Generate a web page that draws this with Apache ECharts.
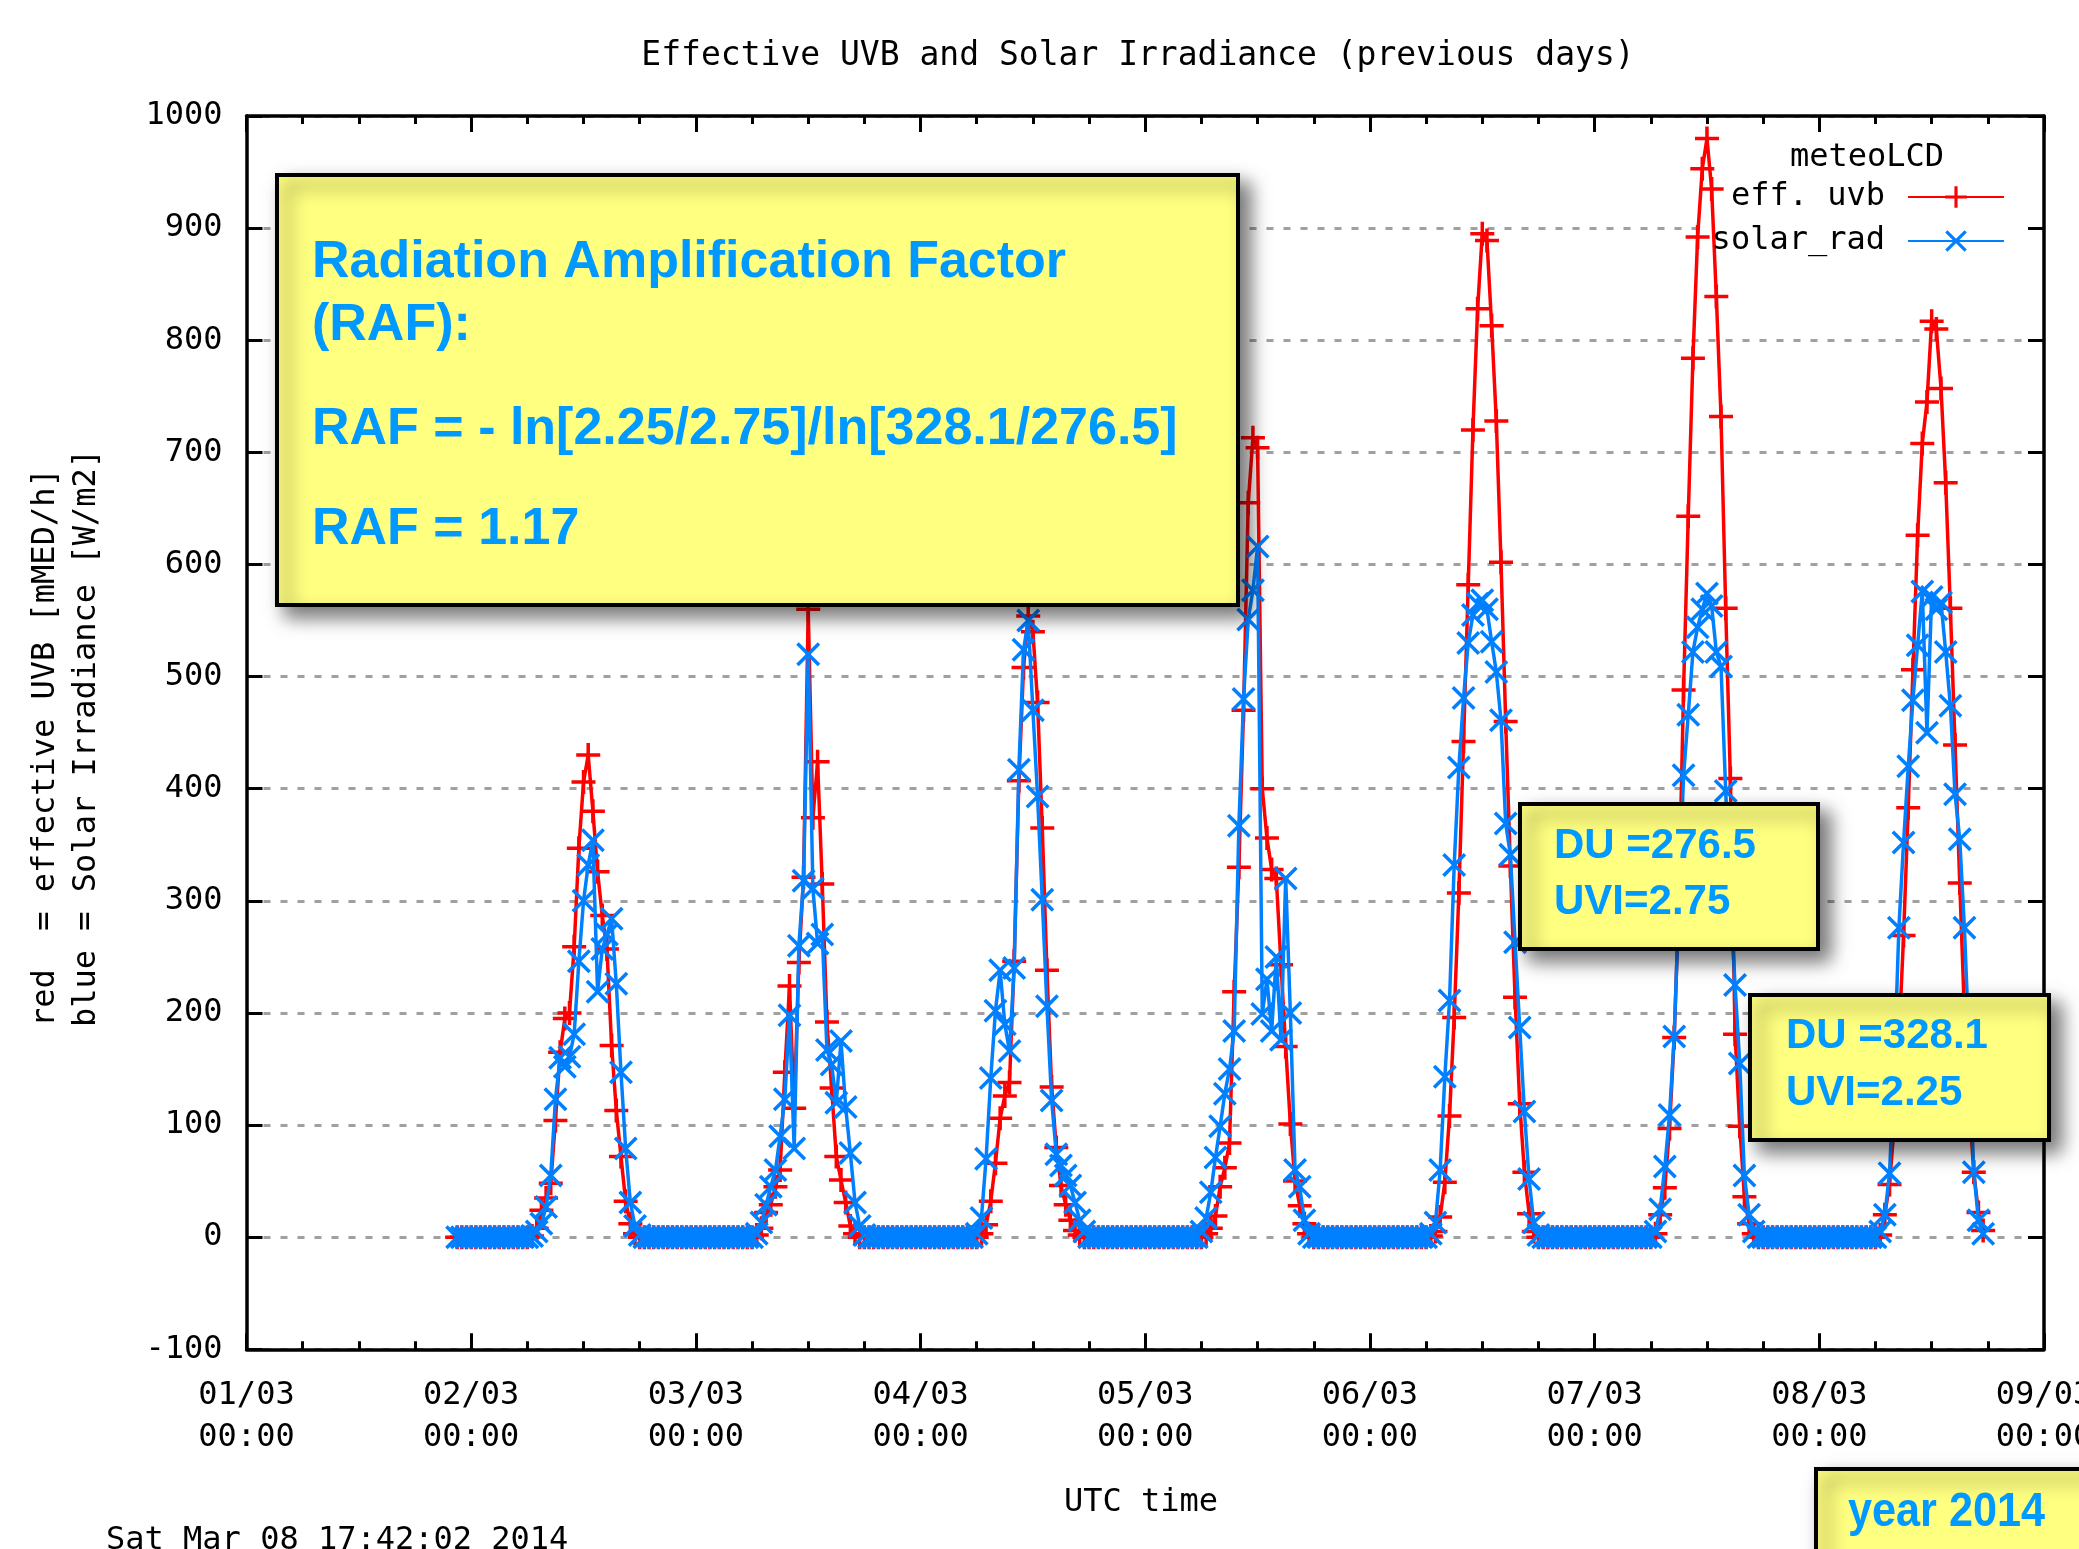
<!DOCTYPE html>
<html>
<head>
<meta charset="utf-8">
<script src="https://cdn.jsdelivr.net/npm/echarts@6/dist/echarts.min.js"></script>
<style>
html,body{margin:0;padding:0;background:#ffffff;}
#chart{width:2079px;height:1549px;}
</style>
</head>
<body>
<div id="chart"></div>
<script>
// ---------- DATA (half-hourly samples, UTC) ----------
// x tick labels (one per day)
const dayTickLabels = ['01/03','02/03','03/03','04/03','05/03','06/03','07/03','08/03','09/03'];
const timeTickLabel = '00:00';
const yTickMin = -100, yTickMax = 1000, yTickStep = 100;

// 01/03 from 22:30
const uvb_01   = [0,0,0];
const solar_01 = [0,0,0];
// 02/03 00:00 .. 23:30
const uvb_02   = [0,0,0,0,0,0,0,0,0,0,0,0,0, 1,8,24,35,48,104,165,195,200,259,347,406,430,380,326,287,257,171,113,72,32,12,3, 0,0,0,0,0,0,0,0,0,0,0,0];
const solar_02 = [0,0,0,0,0,0,0,0,0,0,0,0,0, 1,5,12,27,55,123,160,152,161,181,246,300,332,354,219,257,270,284,226,147,79,31,10,2, 0,0,0,0,0,0,0,0,0,0,0];
// 03/03
const uvb_03   = [0,0,0,0,0,0,0,0,0,0,0,0,0, 2,8,22,29,45,60,147,224,115,245,321,560,374,424,315,192,133,72,51,31,10,3, 0,0,0,0,0,0,0,0,0,0,0,0,0];
const solar_03 = [0,0,0,0,0,0,0,0,0,0,0,0,0, 3,13,29,45,60,90,123,198,79,260,318,520,311,262,270,167,154,120,175,116,75,31,10,2, 0,0,0,0,0,0,0,0,0,0,0];
// 04/03
const uvb_04   = [0,0,0,0,0,0,0,0,0,0,0,0,0, 3,11,32,66,106,126,138,246,407,508,554,540,477,365,238,134,80,46,29,15,6,2, 0,0,0,0,0,0,0,0,0,0,0,0,0];
const solar_04 = [0,0,0,0,0,0,0,0,0,0,0,0, 3,17,70,142,202,238,190,166,240,417,524,550,470,393,301,206,122,74,64,55,46,31,15,5, 0,0,0,0,0,0,0,0,0,0,0,0];
// 05/03
const uvb_05   = [0,0,0,0,0,0,0,0,0,0,0,0,0, 3,8,19,45,62,84,219,330,470,655,713,704,400,356,328,320,243,170,101,50,28,12,3, 0,0,0,0,0,0,0,0,0,0,0,0];
const solar_05 = [0,0,0,0,0,0,0,0,0,0,0,0, 5,17,40,71,99,128,150,184,367,480,551,577,616,199,230,184,250,176,320,200,60,45,15,3, 0,0,0,0,0,0,0,0,0,0,0,0];
// 06/03
const uvb_06   = [0,0,0,0,0,0,0,0,0,0,0,0,0, 1,5,18,49,108,196,307,442,582,720,828,895,889,813,728,602,460,331,214,119,58,21,5, 0,0,0,0,0,0,0,0,0,0,0,0];
const solar_06 = [0,0,0,0,0,0,0,0,0,0,0,0,0, 3,13,60,143,211,332,419,481,530,555,565,568,560,531,504,461,369,341,263,187,112,52,13,2, 0,0,0,0,0,0,0,0,0,0,0];
// 07/03
const uvb_07   = [0,0,0,0,0,0,0,0,0,0,0,0,0, 3,20,44,97,178,300,488,643,784,892,953,980,935,839,732,561,409,181,99,36,12,3, 0,0,0,0,0,0,0,0,0,0,0,0,0];
const solar_07 = [0,0,0,0,0,0,0,0,0,0,0,0,0, 5,25,63,109,179,300,412,466,522,544,560,574,563,522,509,398,300,225,155,55,20,5, 0,0,0,0,0,0,0,0,0,0,0,0,0];
// 08/03 00:00 .. 17:30
const uvb_08   = [0,0,0,0,0,0,0,0,0,0,0,0,0, 2,20,47,100,175,269,383,506,626,708,745,817,810,757,673,561,439,316,200,120,58,22,6];
const solar_08 = [0,0,0,0,0,0,0,0,0,0,0,0,0, 5,20,57,150,276,352,420,479,528,576,450,571,560,566,522,474,395,355,276,170,58,15,3];

// day blocks: day offset (days since 01/03 00:00) and first half-hour slot
const dayBlocks = [
  {day:0, slot:45, uvb:uvb_01, solar:solar_01},
  {day:1, slot:0,  uvb:uvb_02, solar:solar_02},
  {day:2, slot:0,  uvb:uvb_03, solar:solar_03},
  {day:3, slot:0,  uvb:uvb_04, solar:solar_04},
  {day:4, slot:0,  uvb:uvb_05, solar:solar_05},
  {day:5, slot:0,  uvb:uvb_06, solar:solar_06},
  {day:6, slot:0,  uvb:uvb_07, solar:solar_07},
  {day:7, slot:0,  uvb:uvb_08, solar:solar_08}
];

const uvbData = [], solarData = [];
dayBlocks.forEach(b => {
  b.uvb.forEach((v,i) => uvbData.push([b.day*24 + (b.slot+i)*0.5, v]));
  b.solar.forEach((v,i) => solarData.push([b.day*24 + (b.slot+i)*0.5, v]));
});

// ---------- STYLE ----------
const MONO = '"DejaVu Sans Mono", "Liberation Mono", monospace';
const SANS = '"Liberation Sans", Arial, sans-serif';
const RED = '#ff0000', BLUE = '#0080ff', TXTBLUE = '#0099ff', YEL = '#ffff80';
const plusPath  = 'path://M0,10.25H24V13.75H0Z M10.25,0H13.75V24H10.25Z';
const crossPath = 'path://M0,2.5L2.5,0L24,21.5L21.5,24Z M21.5,0L24,2.5L2.5,24L0,21.5Z';

const chart = echarts.init(document.getElementById('chart'), null, {renderer:'canvas'});

const xAxisBase = {
  type:'value', min:0, max:192, interval:24,
  axisLine:{show:true, onZero:false, lineStyle:{color:'#000', width:3.5}},
  axisTick:{show:true, inside:true, length:16, lineStyle:{color:'#000', width:3}},
  minorTick:{show:true, splitNumber:4, length:8, lineStyle:{color:'#000', width:3}},
  splitLine:{show:false}, minorSplitLine:{show:false}
};
const yAxisBase = {
  type:'value', min:yTickMin, max:yTickMax, interval:yTickStep,
  axisLine:{show:true, onZero:false, lineStyle:{color:'#000', width:3.5}},
  axisTick:{show:true, inside:true, length:16, lineStyle:{color:'#000', width:3}},
  minorTick:{show:false}
};

function gtext(x, y, text, font, fill, align, extra) {
  return Object.assign({
    type:'text', x:x, y:y, z:101,
    style:{x:0, y:0, text:text, font:font, fill:fill, align:align, textAlign:align,
           verticalAlign:'middle', textVerticalAlign:'middle'}
  }, extra || {});
}
function box(x, y, w, h) {
  return {type:'rect', z:100, shape:{x:x, y:y, width:w, height:h},
    style:{fill:YEL, stroke:'#000', lineWidth:4,
      shadowBlur:18, shadowOffsetX:10, shadowOffsetY:10, shadowColor:'rgba(0,0,0,0.55)'}};
}

const option = {
  animation:false,
  backgroundColor:'#ffffff',
  grid:{left:246.5, right:35, top:116, bottom:199.7, containLabel:false, outerBoundsMode:'none'},
  legend:{
    data:['eff. uvb','solar_rad'], orient:'vertical', align:'right',
    right:74, top:181, padding:0, itemWidth:96, itemHeight:27, itemGap:12,
    selectedMode:false, z:5,
    textStyle:{fontFamily:MONO, fontSize:32, color:'#000', lineHeight:30, padding:[0,18,0,0]}
  },
  xAxis:[
    Object.assign({}, xAxisBase, {position:'bottom',
      axisLabel:{show:true, color:'#000', fontFamily:MONO, fontSize:32, lineHeight:42, margin:25,
        showMinLabel:true, showMaxLabel:true,
        formatter:function(v){ return dayTickLabels[Math.round(v/24)] + '\n' + timeTickLabel; }}}),
    Object.assign({}, xAxisBase, {position:'top', axisLabel:{show:false}})
  ],
  yAxis:[
    Object.assign({}, yAxisBase, {position:'left',
      axisLabel:{show:true, color:'#000', fontFamily:MONO, fontSize:32, margin:24,
        formatter:function(v){ return String(v); }},
      splitLine:{show:true, lineStyle:{color:'#a0a0a0', width:3, type:[7,10]}}}),
    Object.assign({}, yAxisBase, {position:'right', axisLabel:{show:false}, splitLine:{show:false}})
  ],
  series:[
    {name:'eff. uvb', type:'line', data:uvbData, xAxisIndex:0, yAxisIndex:0,
     symbol:plusPath, symbolSize:24, showSymbol:true, showAllSymbol:true,
     lineStyle:{color:RED, width:3.5}, itemStyle:{color:RED, borderWidth:0},
     emphasis:{disabled:true}, z:2},
    {name:'solar_rad', type:'line', data:solarData, xAxisIndex:0, yAxisIndex:0,
     symbol:crossPath, symbolSize:24, showSymbol:true, showAllSymbol:true,
     lineStyle:{color:BLUE, width:3.5}, itemStyle:{color:BLUE, borderWidth:0},
     emphasis:{disabled:true}, z:3}
  ],
  graphic:[
    // white key area
    {type:'rect', z:1, shape:{x:1703, y:133, width:325, height:118}, style:{fill:'#ffffff'}},
    gtext(1138, 56, 'Effective UVB and Solar Irradiance (previous days)', '33px ' + MONO, '#000', 'center'),
    gtext(1867, 158, 'meteoLCD', '32px ' + MONO, '#000', 'center', {z:6}),
    gtext(46, 1027, 'red  = effective UVB [mMED/h]', '32px ' + MONO, '#000', 'left', {rotation:Math.PI/2}),
    gtext(87, 1027, 'blue = Solar Irradiance [W/m2]', '32px ' + MONO, '#000', 'left', {rotation:Math.PI/2}),
    gtext(1141, 1503, 'UTC time', '32px ' + MONO, '#000', 'center'),
    gtext(106, 1541, 'Sat Mar 08 17:42:02 2014', '32px ' + MONO, '#000', 'left'),
    // annotation boxes
    box(277, 175, 961, 430),
    gtext(312, 262.5, 'Radiation Amplification Factor', 'bold 52px ' + SANS, TXTBLUE, 'left'),
    gtext(312, 326, '(RAF):', 'bold 52px ' + SANS, TXTBLUE, 'left'),
    gtext(312, 430, 'RAF = - ln[2.25/2.75]/ln[328.1/276.5]', 'bold 52px ' + SANS, TXTBLUE, 'left'),
    gtext(312, 530, 'RAF = 1.17', 'bold 52px ' + SANS, TXTBLUE, 'left'),
    box(1520, 804, 298, 145),
    gtext(1554, 846, 'DU =276.5', 'bold 42px ' + SANS, TXTBLUE, 'left'),
    gtext(1554, 902, 'UVI=2.75', 'bold 42px ' + SANS, TXTBLUE, 'left'),
    box(1750, 995, 299, 145),
    gtext(1786, 1036, 'DU =328.1', 'bold 42px ' + SANS, TXTBLUE, 'left'),
    gtext(1786, 1093, 'UVI=2.25', 'bold 42px ' + SANS, TXTBLUE, 'left'),
    box(1816, 1469, 400, 200),
    gtext(1848, 1513, 'year 2014', 'bold 48px ' + SANS, TXTBLUE, 'left', {scaleX:0.9})
  ]
};
chart.setOption(option);
</script>
</body>
</html>
